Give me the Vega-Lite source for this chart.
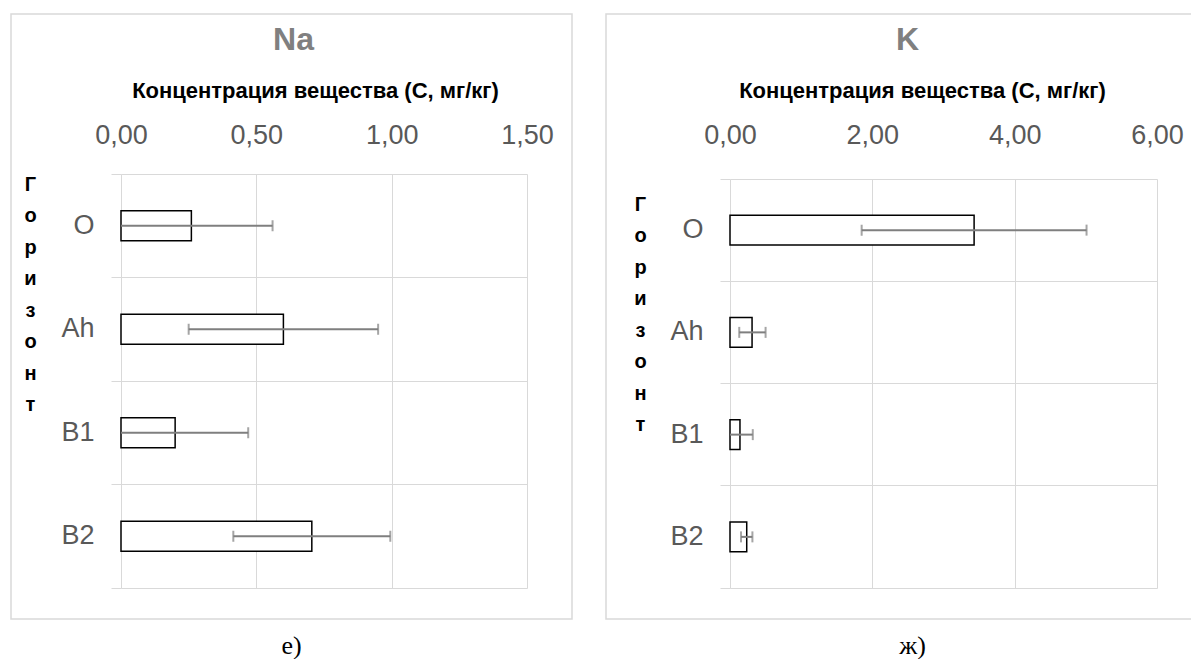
{
  "$schema": "https://vega.github.io/schema/vega-lite/v6.json",
  "padding": {"left": 10, "top": -1, "right": 0, "bottom": 0},
  "spacing": 32,
  "datasets": {
    "na": [
      {"h": "O", "v": 0.26, "lo": -0.04, "hi": 0.56},
      {"h": "Ah", "v": 0.60, "lo": 0.25, "hi": 0.95},
      {"h": "B1", "v": 0.20, "lo": -0.07, "hi": 0.47},
      {"h": "B2", "v": 0.705, "lo": 0.415, "hi": 0.995}
    ],
    "k": [
      {"h": "O", "v": 3.43, "lo": 1.85, "hi": 5.01},
      {"h": "Ah", "v": 0.31, "lo": 0.13, "hi": 0.50},
      {"h": "B1", "v": 0.14, "lo": -0.04, "hi": 0.32},
      {"h": "B2", "v": 0.235, "lo": 0.155, "hi": 0.315}
    ]
  },
  "hconcat": [
    {
      "width": 561,
      "height": 605,
      "data": {"name": "na"},
      "layer": [
        {
          "mark": {"type": "bar", "fill": "white", "stroke": "black", "strokeWidth": 1.5, "height": {"band": 0.29}},
          "encoding": {
            "y": {"field": "h", "type": "nominal", "sort": ["O", "Ah", "B1", "B2"],
              "scale": {"domain": ["O", "Ah", "B1", "B2"], "range": [160, 574], "paddingInner": 0, "paddingOuter": 0},
              "axis": {"orient": "left", "offset": -110, "bandPosition": 1, "tickExtra": true,
                "labelFontSize": 27, "labelColor": "#595959", "labelPadding": 17, "tickSize": 10, "tickColor": "#d9d9d9", "tickWidth": 1,
                "domain": false, "grid": true, "gridColor": "#d9d9d9", "gridWidth": 1,
                "title": ["Г", "о", "р", "и", "з", "о", "н", "т"], "titleAngle": 0, "titleFontSize": 20, "titleFontWeight": "bold", "titleColor": "black",
                "titleLineHeight": 31.5, "titleAlign": "center", "titleBaseline": "top", "titleX": -91, "titleY": 160}},
            "x": {"field": "v", "type": "quantitative",
              "scale": {"domain": [0, 1.5], "range": [110, 516], "nice": false, "clamp": true},
              "axis": {"orient": "top", "offset": -160, "values": [0, 0.5, 1, 1.5], "labelFlush": false,
                "labelExpr": "replace(format(datum.value, '.2f'), '.', ',')",
                "labelFontSize": 27, "labelColor": "#595959", "labelPadding": 25, "ticks": false, "tickSize": 0, "domain": false,
                "grid": true, "gridColor": "#d9d9d9", "gridWidth": 1,
                "title": "Концентрация вещества (С, мг/кг)", "titleFontSize": 22, "titleFontWeight": "bold", "titleColor": "black",
                "titleX": 304, "titleY": -77, "titleBaseline": "alphabetic", "titleAlign": "center"}}
          }
        },
        {
          "mark": {"type": "rule", "color": "#7f7f7f", "strokeWidth": 2},
          "encoding": {
            "y": {"field": "h", "type": "nominal", "sort": ["O", "Ah", "B1", "B2"]},
            "x": {"field": "lo", "type": "quantitative",
              "axis": {"orient": "bottom", "labels": false, "ticks": false, "domain": false, "grid": false,
                "title": "е)", "titleFont": "Liberation Serif", "titleFontSize": 26, "titleFontWeight": "normal", "titleColor": "black",
                "titleX": 280, "titleY": 34, "titleBaseline": "alphabetic", "titleAlign": "center"}},
            "x2": {"field": "hi"}
          }
        },
        {
          "transform": [{"fold": ["lo", "hi"], "as": ["end", "ev"]}, {"filter": "datum.ev >= 0"}],
          "mark": {"type": "tick", "color": "#7f7f7f", "thickness": 2, "size": 11},
          "encoding": {
            "y": {"field": "h", "type": "nominal", "sort": ["O", "Ah", "B1", "B2"]},
            "x": {"field": "ev", "type": "quantitative",
              "axis": {"orient": "top", "offset": 0, "labels": false, "ticks": false, "domain": false, "grid": false,
                "title": "Na", "titleFont": "Liberation Sans", "titleFontSize": 32, "titleFontWeight": "bold", "titleColor": "#808080",
                "titleX": 282, "titleY": 35, "titleBaseline": "alphabetic", "titleAlign": "center"}}
          }
        }
      ],
      "resolve": {"axis": {"x": "independent"}}
    },
    {
      "width": 600,
      "height": 605,
      "data": {"name": "k"},
      "layer": [
        {
          "mark": {"type": "bar", "fill": "white", "stroke": "black", "strokeWidth": 1.5, "height": {"band": 0.29}},
          "encoding": {
            "y": {"field": "h", "type": "nominal", "sort": ["O", "Ah", "B1", "B2"],
              "scale": {"domain": ["O", "Ah", "B1", "B2"], "range": [165, 574], "paddingInner": 0, "paddingOuter": 0},
              "axis": {"orient": "left", "offset": -124, "bandPosition": 1, "tickExtra": true,
                "labelFontSize": 27, "labelColor": "#595959", "labelPadding": 17, "tickSize": 10, "tickColor": "#d9d9d9", "tickWidth": 1,
                "domain": false, "grid": true, "gridColor": "#d9d9d9", "gridWidth": 1,
                "title": ["Г", "о", "р", "и", "з", "о", "н", "т"], "titleAngle": 0, "titleFontSize": 20, "titleFontWeight": "bold", "titleColor": "black",
                "titleLineHeight": 31.5, "titleAlign": "center", "titleBaseline": "top", "titleX": -90, "titleY": 180}},
            "x": {"field": "v", "type": "quantitative",
              "scale": {"domain": [0, 6], "range": [124, 551], "nice": false, "clamp": true},
              "axis": {"orient": "top", "offset": -165, "values": [0, 2, 4, 6], "labelFlush": false,
                "labelExpr": "replace(format(datum.value, '.2f'), '.', ',')",
                "labelFontSize": 27, "labelColor": "#595959", "labelPadding": 30, "ticks": false, "tickSize": 0, "domain": false,
                "grid": true, "gridColor": "#d9d9d9", "gridWidth": 1,
                "title": "Концентрация вещества (С, мг/кг)", "titleFontSize": 22, "titleFontWeight": "bold", "titleColor": "black",
                "titleX": 316, "titleY": -82, "titleBaseline": "alphabetic", "titleAlign": "center"}}
          }
        },
        {
          "mark": {"type": "rule", "color": "#7f7f7f", "strokeWidth": 2},
          "encoding": {
            "y": {"field": "h", "type": "nominal", "sort": ["O", "Ah", "B1", "B2"]},
            "x": {"field": "lo", "type": "quantitative",
              "axis": {"orient": "bottom", "labels": false, "ticks": false, "domain": false, "grid": false,
                "title": "ж)", "titleFont": "Liberation Serif", "titleFontSize": 26, "titleFontWeight": "normal", "titleColor": "black",
                "titleX": 306, "titleY": 34, "titleBaseline": "alphabetic", "titleAlign": "center"}},
            "x2": {"field": "hi"}
          }
        },
        {
          "transform": [{"fold": ["lo", "hi"], "as": ["end", "ev"]}, {"filter": "datum.ev >= 0"}],
          "mark": {"type": "tick", "color": "#7f7f7f", "thickness": 2, "size": 11},
          "encoding": {
            "y": {"field": "h", "type": "nominal", "sort": ["O", "Ah", "B1", "B2"]},
            "x": {"field": "ev", "type": "quantitative",
              "axis": {"orient": "top", "offset": 0, "labels": false, "ticks": false, "domain": false, "grid": false,
                "title": "K", "titleFont": "Liberation Sans", "titleFontSize": 32, "titleFontWeight": "bold", "titleColor": "#808080",
                "titleX": 301, "titleY": 35, "titleBaseline": "alphabetic", "titleAlign": "center"}}
          }
        }
      ],
      "resolve": {"axis": {"x": "independent"}}
    }
  ],
  "config": {
    "font": "Liberation Sans",
    "view": {"stroke": "#d9d9d9", "strokeWidth": 1.5},
    "axis": {"labelFont": "Liberation Sans", "titleFont": "Liberation Sans"}
  }
}
